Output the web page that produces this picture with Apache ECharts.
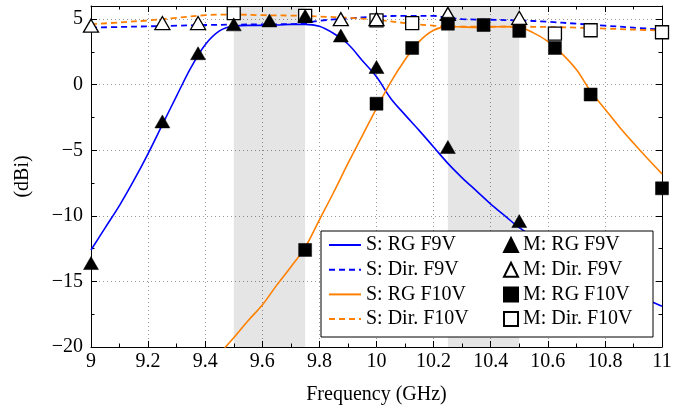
<!DOCTYPE html>
<html><head><meta charset="utf-8">
<script src="https://cdn.jsdelivr.net/npm/echarts@6/dist/echarts.min.js"></script>
<style>html,body{margin:0;padding:0;background:#fff}#c{width:694px;height:410px}</style>
</head><body><div id="c"></div>
<script>
// ---- Data ----
const xTicks = [9, 9.2, 9.4, 9.6, 9.8, 10, 10.2, 10.4, 10.6, 10.8, 11];
const yTicks = [-20, -15, -10, -5, 0, 5];
const bands = [[9.5, 9.75], [10.25, 10.5]];

// Simulated (S) curves: [frequency GHz, gain dBi]
const simRgF9 = [[9.00,-12.6],[9.05,-10.9],[9.10,-9.2],[9.15,-7.3],[9.20,-5.25],[9.25,-3.05],[9.30,-0.85],[9.35,1.3],[9.40,3.05],[9.45,4.1],[9.50,4.48],[9.55,4.52],[9.60,4.52],[9.65,4.55],[9.70,4.6],[9.75,4.6],[9.80,4.45],[9.85,3.9],[9.90,3.1],[9.95,1.85],[10.00,0.6],[10.05,-1.05],[10.10,-2.3],[10.15,-3.5],[10.20,-4.75],[10.25,-6.0],[10.30,-7.1],[10.35,-8.1],[10.40,-9.1],[10.45,-10.0],[10.50,-10.9],[10.60,-12.3],[10.70,-13.6],[10.80,-14.8],[10.90,-15.9],[11.00,-16.9]];
const simDirF9 = [[9.00,4.35],[9.10,4.4],[9.20,4.45],[9.30,4.5],[9.40,4.55],[9.50,4.58],[9.60,4.6],[9.70,4.62],[9.75,4.7],[9.80,4.88],[9.90,5.05],[10.00,5.2],[10.10,5.25],[10.20,5.25],[10.25,5.1],[10.30,5.0],[10.40,4.95],[10.50,4.9],[10.60,4.8],[10.70,4.65],[10.80,4.5],[10.90,4.35],[11.00,4.2]];
const simRgF10 = [[9.45,-20.5],[9.50,-19.3],[9.55,-18.0],[9.60,-16.8],[9.65,-15.3],[9.70,-13.9],[9.75,-12.4],[9.80,-10.3],[9.85,-8.2],[9.90,-6.0],[9.95,-3.9],[10.00,-1.8],[10.05,0.2],[10.10,1.9],[10.15,3.3],[10.20,4.15],[10.25,4.43],[10.30,4.4],[10.35,4.37],[10.40,4.4],[10.45,4.43],[10.50,4.38],[10.55,3.95],[10.60,3.3],[10.65,2.35],[10.70,1.15],[10.75,-0.5],[10.80,-1.85],[10.85,-3.2],[10.90,-4.45],[10.95,-5.65],[11.00,-6.8]];
const simDirF10 = [[9.00,4.6],[9.10,4.75],[9.20,4.9],[9.30,5.1],[9.40,5.3],[9.50,5.35],[9.60,5.3],[9.70,5.27],[9.80,5.2],[9.90,5.1],[10.00,4.95],[10.10,4.7],[10.20,4.5],[10.30,4.42],[10.40,4.42],[10.50,4.42],[10.60,4.4],[10.70,4.35],[10.80,4.28],[10.90,4.2],[11.00,4.12]];

// Measured (M) points
const measRgF9 = [[9.0,-13.6],[9.25,-2.8],[9.375,2.4],[9.5,4.6],[9.625,4.9],[9.75,5.25],[9.875,3.75],[10.0,1.35],[10.25,-4.75],[10.5,-10.4]];
const measDirF9 = [[9.0,4.5],[9.25,4.7],[9.375,4.7],[9.875,5.0],[10.0,5.0],[10.25,5.4],[10.5,5.1]];
const measRgF10 = [[9.75,-12.6],[10.0,-1.45],[10.125,2.8],[10.25,4.65],[10.375,4.55],[10.5,4.1],[10.625,2.8],[10.75,-0.75],[11.0,-7.9]];
const measDirF10 = [[9.5,5.45],[9.75,5.25],[10.0,4.9],[10.125,4.7],[10.625,3.9],[10.75,4.15],[11.0,4.0]];

const simNames = ['S: RG F9V', 'S: Dir. F9V', 'S: RG F10V', 'S: Dir. F10V'];
const measNames = ['M: RG F9V', 'M: Dir. F9V', 'M: RG F10V', 'M: Dir. F10V'];

// ---- Styling ----
const FONT = 'Liberation Serif';
const FS = 20;
const BLUE = '#0000ff', ORANGE = '#ff8000';
const xMin = xTicks[0], xMax = xTicks[xTicks.length - 1];
const yMin = yTicks[0], yMax = 6;

function fmtNum(v) {
  const r = Math.round(v * 10) / 10;
  if (r < 0) return '\u2212' + Math.abs(r);
  return String(r);
}

const axisCommon = {
  axisLine: { show: true, onZero: false, lineStyle: { color: '#000', width: 1 } },
  axisTick: { show: true, inside: true, length: 6, lineStyle: { color: '#000', width: 1 } },
  minorTick: { show: true, splitNumber: 2, length: 3.5, lineStyle: { color: '#000', width: 1 } },
};

const chart = echarts.init(document.getElementById('c'), null, { renderer: 'canvas' });

function lineSeries(name, data, color, dashed) {
  return {
    name, type: 'line', data, xAxisIndex: 0, yAxisIndex: 0,
    symbol: 'none', showSymbol: false, smooth: 0.35, clip: true,
    lineStyle: { color, width: dashed ? 1.8 : 1.6, type: dashed ? [6, 4] : 'solid' },
    itemStyle: { color }, z: 2
  };
}
function markSeries(name, data, symbol, filled) {
  return {
    name, type: 'scatter', data, xAxisIndex: 0, yAxisIndex: 0,
    symbol, symbolSize: symbol === 'triangle' ? [15, 13] : 13, clip: false,
    itemStyle: filled ? { color: '#000', borderColor: '#000', borderWidth: 0.5, opacity: 1 }
                      : { color: '#fff', borderColor: '#000', borderWidth: 1.3, opacity: 1 },
    z: 3
  };
}

const s0 = lineSeries(simNames[0], simRgF9, BLUE, false);
s0.markArea = {
  silent: true,
  itemStyle: { color: 'rgba(0,0,0,0.1)' },
  data: bands.map(b => [{ xAxis: b[0] }, { xAxis: b[1] }])
};

const option = {
  backgroundColor: '#fff',
  animation: false,
  grid: { left: 91, right: 32, top: 6, bottom: 62, containLabel: false },
  xAxis: [
    Object.assign({}, axisCommon, {
      type: 'value', position: 'bottom', min: xMin, max: xMax, interval: 0.2,
      splitLine: { show: true, lineStyle: { type: [1, 3], color: '#999', width: 1 } },
      axisLabel: { fontFamily: FONT, fontSize: FS, color: '#000', margin: 5, formatter: fmtNum },
      name: 'Frequency (GHz)', nameLocation: 'middle', nameGap: 38,
      nameTextStyle: { fontFamily: FONT, fontSize: FS, color: '#000' }
    }),
    Object.assign({}, axisCommon, {
      type: 'value', position: 'top', min: xMin, max: xMax, interval: 0.2,
      splitLine: { show: false }, axisLabel: { show: false }
    })
  ],
  yAxis: [
    Object.assign({}, axisCommon, {
      type: 'value', position: 'left', min: yMin, max: yMax, interval: 5,
      splitLine: { show: true, lineStyle: { type: [1, 3], color: '#999', width: 1 } },
      axisLabel: { fontFamily: FONT, fontSize: FS, color: '#000', margin: 8,
        formatter: v => (yTicks.indexOf(v) < 0 ? '' : fmtNum(v)) },
      name: '(dBi)', nameLocation: 'middle', nameGap: 58, nameRotate: 90,
      nameTextStyle: { fontFamily: FONT, fontSize: FS, color: '#000' }
    }),
    Object.assign({}, axisCommon, {
      type: 'value', position: 'right', min: yMin, max: yMax, interval: 5,
      splitLine: { show: false }, axisLabel: { show: false }
    })
  ],
  legend: [
    {
      data: simNames, orient: 'vertical', left: 328, top: 235, padding: 0,
      itemWidth: 32, itemHeight: 14, itemGap: 4.7, z: 10,
      itemStyle: { opacity: 0 },
      textStyle: { fontFamily: FONT, fontSize: FS, color: '#000' },
      selectedMode: false
    },
    {
      data: measNames, orient: 'vertical', left: 503, top: 235, padding: 0,
      itemWidth: 14, itemHeight: 14, itemGap: 4.7, z: 10,
      textStyle: { fontFamily: FONT, fontSize: FS, color: '#000' },
      selectedMode: false
    }
  ],
  graphic: [{
    type: 'rect', z: 8, silent: true,
    shape: { x: 321, y: 231, width: 332, height: 106 },
    style: { fill: '#fff', stroke: '#000', lineWidth: 1 }
  }],
  series: [
    s0,
    lineSeries(simNames[1], simDirF9, BLUE, true),
    lineSeries(simNames[2], simRgF10, ORANGE, false),
    lineSeries(simNames[3], simDirF10, ORANGE, true),
    markSeries(measNames[3], measDirF10, 'rect', false),
    markSeries(measNames[1], measDirF9, 'triangle', false),
    markSeries(measNames[2], measRgF10, 'rect', true),
    markSeries(measNames[0], measRgF9, 'triangle', true)
  ]
};
chart.setOption(option);
</script>
</body></html>
